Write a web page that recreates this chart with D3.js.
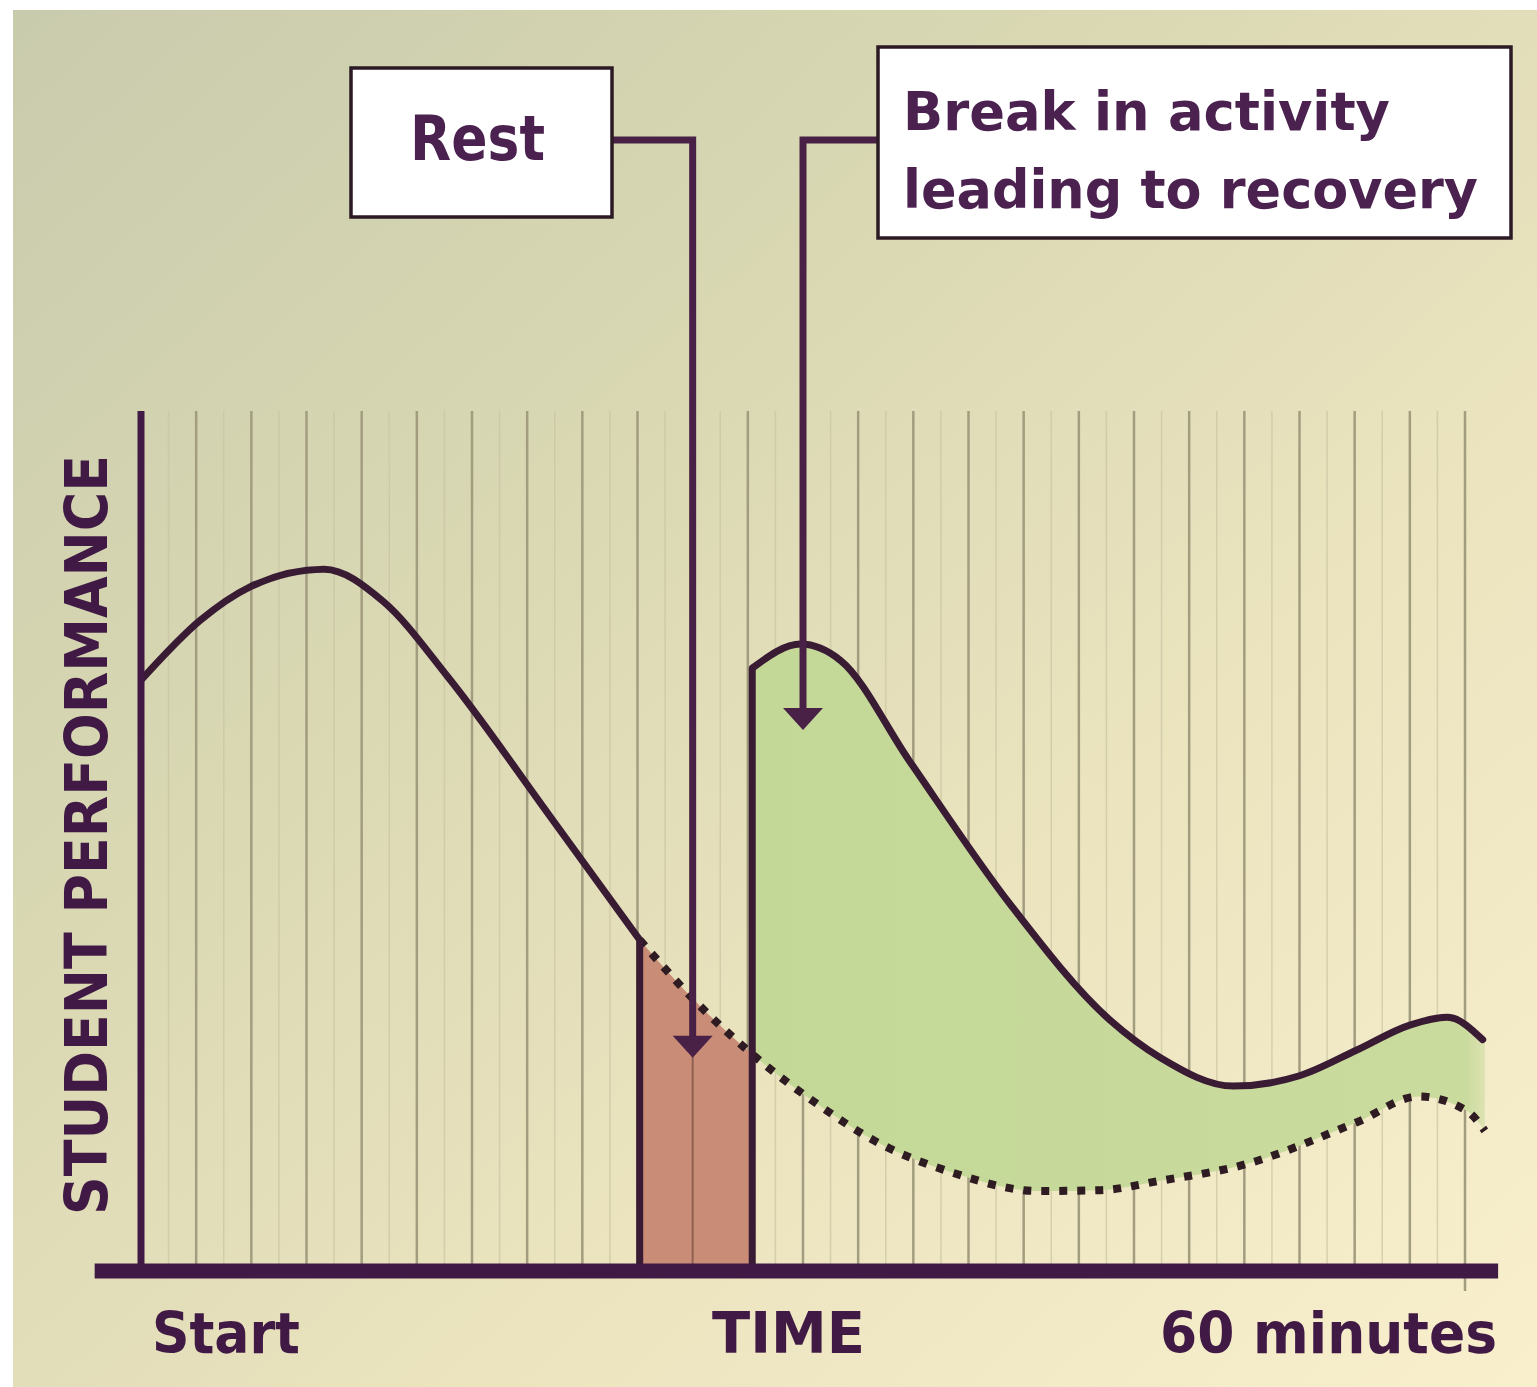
<!DOCTYPE html>
<html>
<head>
<meta charset="utf-8">
<script src="https://cdn.jsdelivr.net/npm/d3@7"></script>
<style>
  html, body { margin: 0; padding: 0; background: #fff; }
  svg { display: block; }
</style>
</head>
<body>
<div id="chart-area"></div>
<script>
// ---- data (minutes, performance 0-100) ----
var minutesBefore = [0, 2.7, 4.9, 8.3, 11.0, 13.9, 18.5, 22.6];
var perfBefore    = [68.7, 75.7, 79.5, 81.6, 77.8, 69.1, 53.0, 38.5];

var minutesNoBreak = [22.6, 25.3, 27.7, 30.6, 33.2, 36.7, 40.7, 43.5, 46.2, 49.9, 55.1, 57.9, 60.1, 60.9];
var perfNoBreak    = [38.5, 30.9, 25.2, 19.5, 15.2, 11.5, 9.3, 9.4, 10.5, 12.3, 17.3, 20.3, 18.6, 16.3];

var minutesAfter = [27.7, 29.9, 31.7, 34.8, 39.4, 43.9, 46.2, 49.5, 52.5, 55.1, 57.5, 59.2, 60.8];
var perfAfter    = [70.1, 72.9, 71.0, 59.4, 42.6, 29.2, 24.8, 21.5, 22.7, 25.7, 28.6, 29.5, 26.9];

var restWindow = [22.6, 27.7];
var restArrowAt = { minute: 25, perf: 24.8 };
var breakArrowAt = { minute: 30, perf: 62.9 };

var xLabels = ["Start", "TIME", "60 minutes"];
var yLabel = "STUDENT PERFORMANCE";
var restLabel = "Rest";
var breakLabel = ["Break in activity", "leading to recovery"];

// ---- layout ----
var W = 1537, H = 1387;
var purple = "#401a44";
var curveCol = "#3a1b34";

var svg = d3.select("#chart-area").append("svg")
    .attr("width", W).attr("height", H);

var defs = svg.append("defs");

var bg = defs.append("linearGradient").attr("id", "bg")
    .attr("x1", 0).attr("y1", 0).attr("x2", 1).attr("y2", 1);
bg.append("stop").attr("offset", "0%").attr("stop-color", "#c9cbad");
bg.append("stop").attr("offset", "35%").attr("stop-color", "#d9d8b3");
bg.append("stop").attr("offset", "65%").attr("stop-color", "#ebe4bf");
bg.append("stop").attr("offset", "100%").attr("stop-color", "#f9efcd");

var greenFade = defs.append("linearGradient").attr("id", "greenFade")
    .attr("gradientUnits", "userSpaceOnUse")
    .attr("x1", 740).attr("x2", 1505).attr("y1", 0).attr("y2", 0);
greenFade.append("stop").attr("offset", "0%").attr("stop-color", "#c3d897");
greenFade.append("stop").attr("offset", "95%").attr("stop-color", "#cadb9e");
greenFade.append("stop").attr("offset", "100%").attr("stop-color", "#cadb9e").attr("stop-opacity", 0);

svg.append("rect")
    .attr("x", 13).attr("y", 10)
    .attr("width", W - 13).attr("height", H - 10)
    .attr("fill", "url(#bg)");

// scales
var x = d3.scaleLinear().domain([0, 60]).range([141, 1465]);
var y = d3.scaleLinear().domain([0, 100]).range([1271, 411]);

function pts(ms, ps) {
  return ms.map(function(m, i) { return [m, ps[i]]; });
}
var before = pts(minutesBefore, perfBefore);
var noBreak = pts(minutesNoBreak, perfNoBreak);
var after = pts(minutesAfter, perfAfter);

var line = d3.line()
    .curve(d3.curveMonotoneX)
    .x(function(d) { return x(d[0]); })
    .y(function(d) { return y(d[1]); });

// ---- grid ----
var gridMajor = d3.range(2.5, 60.01, 2.5);
var gridMinor = d3.range(1.25, 60, 2.5);

svg.append("g").selectAll("line").data(gridMinor).enter().append("line")
    .attr("x1", function(d) { return x(d); }).attr("x2", function(d) { return x(d); })
    .attr("y1", y(100)).attr("y2", y(0))
    .attr("stroke", "#cbc5a4").attr("stroke-width", 1.5).attr("opacity", 0.7);

svg.append("g").selectAll("line").data(gridMajor).enter().append("line")
    .attr("x1", function(d) { return x(d); }).attr("x2", function(d) { return x(d); })
    .attr("y1", y(100)).attr("y2", function(d) { return d === 60 ? y(0) + 20 : y(0); })
    .attr("stroke", "#a39d7f").attr("stroke-width", 2.5);

// clip regions from the "no break" curve
var aboveClip = defs.append("clipPath").attr("id", "aboveDotted");
aboveClip.append("path")
    .attr("d", line(noBreak) + "V0H" + x(restWindow[0]) + "Z");
var belowClip = defs.append("clipPath").attr("id", "belowDotted");
belowClip.append("path")
    .attr("d", line(noBreak) + "V" + y(0) + "H" + x(restWindow[0]) + "Z");

// green recovery area
svg.append("path")
    .attr("d", line(after) + "L" + (x(60.8) + 22) + "," + y(24) + "V" + y(0) + "H" + x(restWindow[1]) + "Z")
    .attr("fill", "url(#greenFade)")
    .attr("clip-path", "url(#aboveDotted)");

// rest block
svg.append("rect")
    .attr("x", x(restWindow[0])).attr("width", x(restWindow[1]) - x(restWindow[0]))
    .attr("y", y(100)).attr("height", y(0) - y(100))
    .attr("fill", "#c98d77")
    .attr("clip-path", "url(#belowDotted)");

// grid line inside rest block
svg.append("line")
    .attr("x1", x(25)).attr("x2", x(25))
    .attr("y1", y(40)).attr("y2", y(0))
    .attr("stroke", "#8f6050").attr("stroke-width", 2);

// dotted projection
svg.append("path")
    .attr("d", line(noBreak))
    .attr("fill", "none")
    .attr("stroke", "#2e1c22")
    .attr("stroke-width", 8)
    .attr("stroke-dasharray", "8,10");

// performance curves
svg.append("path")
    .attr("d", line(before) + "V" + y(0))
    .attr("fill", "none").attr("stroke", curveCol)
    .attr("stroke-width", 7).attr("stroke-linejoin", "round");

svg.append("path")
    .attr("d", "M" + x(after[0][0]) + "," + y(0) + "L" + line(after).slice(1))
    .attr("fill", "none").attr("stroke", curveCol)
    .attr("stroke-width", 7).attr("stroke-linejoin", "round").attr("stroke-linecap", "round");

// axes
svg.append("line")
    .attr("x1", x(0)).attr("x2", x(0))
    .attr("y1", y(100)).attr("y2", y(0))
    .attr("stroke", purple).attr("stroke-width", 7);

svg.append("line")
    .attr("x1", x(-2.1)).attr("x2", x(61.5))
    .attr("y1", y(0)).attr("y2", y(0))
    .attr("stroke", purple).attr("stroke-width", 15);

// axis labels
var font = "'DejaVu Sans', Verdana, sans-serif";
var xLabelPos = [{ x: 152, w: 148 }, { x: 712, w: 153 }, { x: 1160, w: 337 }];
svg.append("g").selectAll("text").data(xLabels).enter().append("text")
    .attr("x", function(d, i) { return xLabelPos[i].x; })
    .attr("y", 1353)
    .attr("textLength", function(d, i) { return xLabelPos[i].w; })
    .attr("lengthAdjust", "spacingAndGlyphs")
    .attr("font-family", font).attr("font-weight", "bold")
    .attr("font-size", 57).attr("fill", purple)
    .text(function(d) { return d; });

svg.append("text")
    .attr("transform", "translate(107,835) rotate(-90)")
    .attr("text-anchor", "middle")
    .attr("textLength", 760)
    .attr("lengthAdjust", "spacingAndGlyphs")
    .attr("font-family", font).attr("font-weight", "bold")
    .attr("font-size", 59).attr("fill", purple)
    .text(yLabel);

// ---- annotations ----
var boxStroke = "#2b1a24";
var connCol = "#4a2146";

function arrowHead(cx, tipY) {
  return "M" + (cx - 20) + "," + (tipY - 22) + "L" + (cx + 20) + "," + (tipY - 22) + "L" + cx + "," + tipY + "Z";
}

// Rest box + connector
svg.append("path")
    .attr("d", "M613,140H" + x(restArrowAt.minute) + "V" + (y(restArrowAt.perf) - 18))
    .attr("fill", "none").attr("stroke", connCol).attr("stroke-width", 7);
svg.append("path")
    .attr("d", arrowHead(x(restArrowAt.minute), y(restArrowAt.perf)))
    .attr("fill", connCol);

svg.append("rect")
    .attr("x", 351).attr("y", 68).attr("width", 261).attr("height", 149)
    .attr("fill", "#fff").attr("stroke", boxStroke).attr("stroke-width", 3.5);
svg.append("text")
    .attr("x", 410).attr("y", 160)
    .attr("textLength", 135).attr("lengthAdjust", "spacingAndGlyphs")
    .attr("font-family", font).attr("font-weight", "bold")
    .attr("font-size", 62).attr("fill", "#4b2150")
    .text(restLabel);

// Break box + connector
svg.append("path")
    .attr("d", "M878,140H" + x(breakArrowAt.minute) + "V" + (y(breakArrowAt.perf) - 18))
    .attr("fill", "none").attr("stroke", connCol).attr("stroke-width", 7);
svg.append("path")
    .attr("d", arrowHead(x(breakArrowAt.minute), y(breakArrowAt.perf)))
    .attr("fill", connCol);

svg.append("rect")
    .attr("x", 878).attr("y", 47).attr("width", 633).attr("height", 191)
    .attr("fill", "#fff").attr("stroke", boxStroke).attr("stroke-width", 3.5);
var breakW = [487, 575];
svg.append("g").selectAll("text").data(breakLabel).enter().append("text")
    .attr("x", 903)
    .attr("y", function(d, i) { return 130 + i * 78; })
    .attr("textLength", function(d, i) { return breakW[i]; })
    .attr("lengthAdjust", "spacingAndGlyphs")
    .attr("font-family", font).attr("font-weight", "bold")
    .attr("font-size", 54).attr("fill", "#4b2150")
    .text(function(d) { return d; });
</script>
</body>
</html>
